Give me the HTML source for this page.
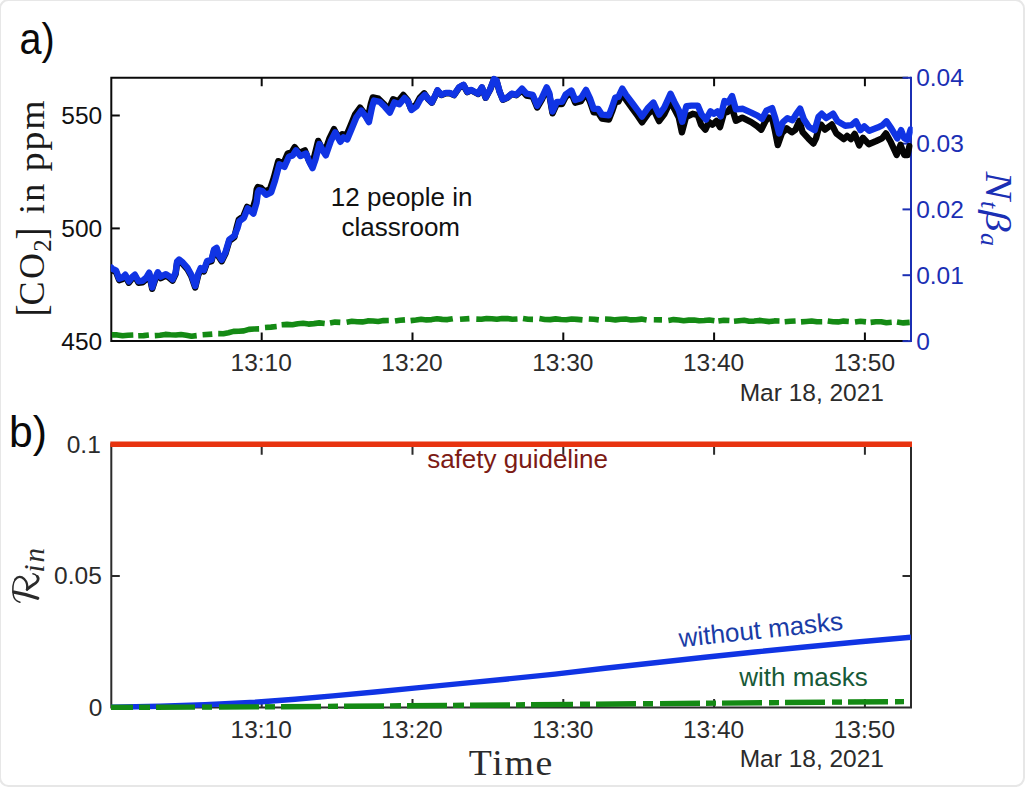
<!DOCTYPE html>
<html><head><meta charset="utf-8"><title>Figure</title>
<style>html,body{margin:0;padding:0;background:#fff;}svg{display:block;}text{font-family:"Liberation Sans",sans-serif;}.s{font-family:"Liberation Serif",serif;}</style></head><body>
<svg width="1025" height="787" viewBox="0 0 1025 787">
<rect x="0" y="0" width="1025" height="787" fill="#ffffff"/>
<rect x="0" y="0" width="1024" height="786" rx="8.5" ry="8.5" fill="none" stroke="#e7e7e7" stroke-width="2"/>
<g fill="none" stroke-width="2" stroke-linecap="square">
<path d="M111.3 77.8 H907.0 M111.3 77.8 V341.1 M111.3 341.1 H907.0" stroke="#0a0a0a"/>
<path d="M911.0 77.8 V341.1" stroke="#1b2fb4"/>
</g>
<g fill="none" stroke-width="2" stroke="#0a0a0a">
<path d="M261.7 77.8 v8.5 M261.7 341.1 v-8.5"/>
<path d="M412.5 77.8 v8.5 M412.5 341.1 v-8.5"/>
<path d="M563.3 77.8 v8.5 M563.3 341.1 v-8.5"/>
<path d="M714.1 77.8 v8.5 M714.1 341.1 v-8.5"/>
<path d="M864.9 77.8 v8.5 M864.9 341.1 v-8.5"/>
<path d="M111.3 115.5 h8.5"/>
<path d="M111.3 228.4 h8.5"/>
</g>
<g fill="none" stroke-width="2" stroke="#1b2fb4">
<path d="M911.0 77.8 h-8.5"/>
<path d="M911.0 143.6 h-8.5"/>
<path d="M911.0 209.4 h-8.5"/>
<path d="M911.0 275.2 h-8.5"/>
<path d="M911.0 341.1 h-8.5"/>
</g>
<clipPath id="ct"><rect x="110.8" y="74.8" width="801.9" height="268.3"/></clipPath>
<g clip-path="url(#ct)" fill="none" stroke-linejoin="round" stroke-linecap="round">
<polyline points="111.3,269.0 112.1,270.0 116.1,272.1 119.2,280.2 122.2,279.2 125.3,276.1 128.8,282.7 132.4,278.1 134.9,276.1 138.5,282.7 142.6,282.2 146.1,279.2 149.2,274.1 152.2,288.8 155.3,279.2 157.8,273.6 160.8,278.1 165.9,275.6 169.0,277.6 172.5,280.7 175.6,274.1 177.1,262.9 179.1,260.9 182.2,263.4 187.3,269.0 191.3,276.1 195.2,287.4 198.2,275.2 200.7,269.5 203.9,271.4 207.1,262.5 211.5,261.2 214.0,251.1 216.6,249.2 218.5,256.2 221.7,261.2 225.5,253.6 229.3,240.9 234.4,237.1 236.9,226.6 238.8,219.6 243.3,216.4 247.1,206.9 252.2,210.4 255.4,199.6 256.7,189.4 257.8,187.1 261.1,187.9 264.9,191.7 270.0,189.2 273.8,177.7 278.2,161.2 283.3,163.7 287.7,153.6 291.6,152.3 294.7,147.2 299.2,152.9 304.9,150.4 308.1,158.7 311.3,165.0 314.4,156.1 318.2,140.9 321.4,147.2 324.6,152.3 329.6,138.1 334.0,129.2 339.1,138.7 342.3,134.2 346.1,136.2 350.6,125.4 355.0,114.6 360.1,107.6 363.9,112.6 367.7,119.0 370.9,103.7 372.8,97.4 378.5,98.7 383.6,103.7 388.7,109.5 393.1,99.3 398.2,101.2 403.3,94.9 407.7,100.3 410.9,108.5 416.0,104.7 419.8,97.7 424.2,93.3 428.0,98.9 431.8,102.7 435.0,96.3 437.5,90.6 441.4,95.1 445.8,93.2 449.6,93.2 454.0,95.2 459.1,87.6 463.5,85.1 467.3,92.1 471.1,90.2 478.1,94.0 481.9,87.6 485.7,97.8 490.2,89.5 494.0,79.4 496.5,80.6 499.7,92.1 502.9,99.7 507.3,97.8 511.8,94.0 516.2,95.2 522.0,90.4 526.4,95.5 532.8,96.7 537.2,107.5 541.7,99.9 546.7,89.1 549.3,94.8 552.5,113.3 556.9,103.7 562.0,104.0 565.8,96.6 571.4,93.0 575.2,102.7 581.0,101.1 586.0,93.1 589.9,101.5 593.7,112.4 598.1,112.6 601.9,118.5 608.9,119.5 612.1,111.4 615.3,102.0 618.4,101.5 622.3,93.5 626.1,99.9 632.4,108.5 638.1,116.4 642.0,122.3 647.7,114.3 653.4,108.9 656.6,116.0 659.1,121.1 664.2,114.4 668.0,106.4 670.5,100.8 674.4,109.1 678.8,117.6 681.9,132.3 686.0,117.0 692.7,113.8 697.8,115.0 701.0,124.6 705.4,129.7 709.0,122.0 712.4,124.6 716.5,121.0 720.0,127.2 724.0,113.0 727.6,111.9 731.5,106.5 735.9,120.8 742.3,117.6 751.2,122.1 757.0,126.0 761.3,129.7 765.5,121.0 768.9,117.6 772.5,119.5 775.0,131.0 777.8,145.0 782.0,133.0 786.7,128.4 791.8,132.3 795.6,129.6 799.4,120.7 802.6,132.1 808.3,138.4 813.4,143.5 816.0,138.4 818.5,129.0 821.0,124.5 824.9,129.6 831.8,124.5 836.3,133.4 843.9,139.1 847.1,135.9 850.9,139.1 854.7,134.0 859.2,145.4 863.0,137.8 868.7,144.2 876.3,141.0 882.0,138.4 885.9,133.4 890.9,142.3 896.7,155.0 900.5,144.8 904.3,155.0 907.5,155.0 909.4,146.1" stroke="#050505" stroke-width="6.4"/>
<polyline points="111.3,267.6 112.1,268.6 116.1,270.7 119.2,278.8 122.2,277.8 125.3,274.7 128.8,281.3 132.4,276.7 134.9,274.7 138.5,281.3 142.6,280.8 146.1,277.8 149.2,272.7 152.2,287.4 155.3,277.8 157.8,272.2 160.8,276.7 165.9,274.2 169.0,276.2 172.5,279.3 175.6,272.7 177.1,261.5 179.1,259.5 182.2,262.0 187.3,267.6 191.3,274.7 195.2,286.0 198.2,273.8 200.7,268.1 203.9,270.0 207.1,261.1 211.5,259.8 214.0,249.7 216.6,247.8 218.5,254.8 221.7,259.8 225.5,252.2 229.3,239.5 234.4,235.7 237.5,228.1 239.4,221.1 243.9,217.9 247.7,208.4 253.4,213.5 256.6,202.7 257.9,192.5 259.0,190.2 262.3,191.0 266.1,194.8 271.2,192.3 275.0,180.8 279.4,164.3 284.5,166.8 288.9,156.7 292.8,155.4 295.9,150.3 300.4,156.0 306.1,153.5 309.3,161.8 312.5,168.1 315.6,159.2 319.4,144.0 322.6,150.3 325.8,155.4 330.8,141.2 335.2,132.3 340.3,141.8 343.5,137.3 347.3,139.3 351.8,128.5 356.2,117.7 361.3,110.7 365.1,115.7 368.9,122.1 372.1,106.8 374.0,100.5 379.7,101.8 384.8,106.8 389.9,112.6 394.3,102.4 399.4,104.3 404.5,98.0 408.3,101.8 411.5,110.0 416.6,106.2 420.4,99.2 424.8,94.8 428.0,98.6 431.8,102.4 435.0,96.0 437.5,90.3 441.4,94.8 445.8,92.9 449.6,92.9 454.0,94.9 459.1,87.3 463.5,84.8 467.3,91.8 471.1,89.9 478.1,93.7 481.9,87.3 485.7,97.5 490.2,89.2 494.0,79.1 496.5,80.3 499.7,91.8 502.9,99.4 507.3,97.5 511.8,93.7 516.2,94.9 522.0,88.6 526.4,93.7 532.8,94.9 537.2,105.7 541.7,98.1 546.7,87.3 549.3,93.0 552.5,111.5 556.9,101.9 562.0,101.9 565.8,94.3 571.4,90.5 575.2,100.0 581.0,98.1 586.0,89.9 589.9,98.1 593.7,108.9 598.1,108.9 601.9,114.6 608.9,115.3 612.1,107.0 615.3,97.5 618.4,96.8 622.3,88.6 626.1,94.9 632.4,103.2 638.1,110.8 642.0,116.5 647.7,108.3 653.4,102.6 656.6,109.6 659.1,114.6 664.2,107.6 668.0,99.4 670.5,93.7 674.4,101.9 678.8,110.2 682.2,121.8 686.4,106.2 691.4,105.6 697.8,105.6 701.6,114.5 706.0,119.6 710.5,111.3 713.7,113.8 717.5,111.3 720.7,116.4 724.5,101.1 728.3,102.4 732.1,96.0 735.9,109.4 742.9,108.8 751.2,112.6 757.5,115.7 762.0,118.9 766.4,110.7 772.1,108.1 775.3,118.3 779.1,133.5 782.9,122.1 787.4,118.3 792.5,120.2 796.3,113.8 800.1,108.6 803.9,119.4 809.0,127.0 814.7,130.2 818.5,116.8 821.7,113.7 826.1,118.1 833.1,113.7 837.6,121.3 845.2,125.7 851.5,125.1 856.0,121.3 860.4,130.2 864.3,126.4 869.3,130.8 877.6,127.6 882.7,125.1 886.5,121.3 891.6,128.9 897.3,138.4 901.1,130.2 904.3,138.4 907.5,139.7 910.6,129.6" stroke="#1034e4" stroke-width="6.4"/>
</g>
<g fill="none" stroke="#148a14" stroke-width="5.6" stroke-linecap="butt" stroke-linejoin="round">
<polyline points="111.8,334.9 117.2,334.9 122.6,335.8 127.9,335.2 133.3,335.0"/>
<polyline points="138.2,335.8 143.6,335.6 148.9,335.0"/>
<polyline points="154.8,335.6 160.0,335.3 165.3,334.4 170.5,334.8 175.8,335.0 181.0,334.5 186.2,335.2 191.5,336.2 196.7,335.6"/>
<polyline points="202.6,334.8 212.3,334.1"/>
<polyline points="218.2,333.6 223.3,333.7 228.4,332.7 233.5,331.4 238.7,331.3 243.8,330.9 248.9,329.4 254.0,329.0 259.1,328.9"/>
<polyline points="265.0,327.5 270.9,327.1 276.7,326.5"/>
<polyline points="281.6,324.8 287.0,324.4 292.4,324.8 297.8,323.8 303.1,323.3 308.5,324.1 313.9,323.6 319.3,322.9 324.7,323.5"/>
<polyline points="330.0,323.1 335.1,322.1 340.3,322.4"/>
<polyline points="346.6,322.2 351.9,321.3 357.2,321.7 362.4,321.9 367.7,320.9 373.0,321.0 378.2,321.5 383.5,320.6 388.8,320.5"/>
<polyline points="395.0,321.1 400.0,320.3 405.0,319.9"/>
<polyline points="410.6,320.6 415.9,320.0 421.2,319.2 426.4,319.9 431.7,319.6 437.0,318.8 442.2,319.4 447.5,319.6 452.8,318.7"/>
<polyline points="460.0,319.3 469.4,318.6"/>
<polyline points="476.3,319.1 481.4,319.3 486.6,318.5 491.8,318.7 496.9,319.3 502.1,318.6 507.2,318.5 512.4,319.3 517.5,319.0"/>
<polyline points="523.0,318.5 528.0,319.3 533.0,319.4"/>
<polyline points="539.4,318.6 544.8,319.5 550.2,319.6 555.6,318.9 561.0,319.5 566.3,319.8 571.7,319.0 577.1,319.4 582.5,319.9"/>
<polyline points="588.8,319.0 593.8,319.3 598.8,319.9"/>
<polyline points="605.0,319.0 610.2,319.2 615.4,319.9 620.6,319.3 625.8,319.0 631.0,319.9 636.2,319.7 641.4,319.1 646.6,319.9"/>
<polyline points="653.8,319.8 662.0,319.9"/>
<polyline points="668.4,320.4 673.5,319.6 678.6,320.0 683.7,320.7 688.8,320.1 694.0,320.0 699.1,320.8 704.2,320.5 709.3,320.0 714.4,320.7"/>
<polyline points="718.4,321.0 723.9,320.2 729.4,320.5"/>
<polyline points="734.0,321.2 739.1,320.7 744.1,320.3 749.2,321.2 754.2,321.1 759.3,320.4 764.3,321.0 769.4,321.6 774.4,320.9 779.5,321.0"/>
<polyline points="784.7,321.8 790.2,321.3 795.6,321.0"/>
<polyline points="801.0,321.9 806.3,321.5 811.6,321.0 816.9,321.8 822.2,321.8"/>
<polyline points="827.7,321.0 833.0,321.7 838.2,321.9 843.5,321.1 848.8,321.5"/>
<polyline points="855.0,322.1 860.5,321.3 866.0,321.9"/>
<polyline points="870.6,322.4 875.9,321.8 881.2,321.8 886.4,322.7 891.7,322.3"/>
<polyline points="897.0,321.9 903.4,322.9 909.7,322.4"/>
</g>
<g font-size="24.5" fill="#111">
<text x="102.2" y="124.2" text-anchor="end">550</text>
<text x="102.2" y="237.0" text-anchor="end">500</text>
<text x="102.2" y="349.8" text-anchor="end">450</text>
</g>
<g font-size="24.5" fill="#2b2b2b" text-anchor="middle">
<text x="261.2" y="371.2">13:10</text>
<text x="412.0" y="371.2">13:20</text>
<text x="562.8" y="371.2">13:30</text>
<text x="713.6" y="371.2">13:40</text>
<text x="864.4" y="371.2">13:50</text>
</g>
<text x="884" y="400.8" font-size="24.5" fill="#2b2b2b" text-anchor="end">Mar 18, 2021</text>
<g font-size="24.5" fill="#1b2fb4">
<text x="916.2" y="86.3">0.04</text>
<text x="916.2" y="152.1">0.03</text>
<text x="916.2" y="217.9">0.02</text>
<text x="916.2" y="283.7">0.01</text>
<text x="916.2" y="349.6">0</text>
</g>
<g font-size="26" fill="#111" text-anchor="middle">
<text x="401.7" y="205.6">12 people in</text>
<text x="400.8" y="235.8">classroom</text>
</g>
<text transform="translate(19.5,54) scale(0.9,1)" font-size="44" fill="#0a0a0a">a)</text>
<text transform="translate(9.0,447) scale(0.97,1)" font-size="44" fill="#0a0a0a">b)</text>
<g class="s" font-size="36" fill="#1a1a1a" transform="translate(43.7,0) rotate(-90)">
<text class="s" transform="translate(-316.5,1.5) scale(1,1.18)">[</text>
<text class="s" x="-305.5" y="0">C</text>
<text class="s" x="-279" y="0">O</text>
<text class="s" x="-251.8" y="7.5" font-size="25">2</text>
<text class="s" transform="translate(-239.5,1.5) scale(1,1.18)">]</text>
<text class="s" x="-214" y="0" letter-spacing="2.2">in</text>
<text class="s" transform="translate(-171.3,0) scale(1.05,1)" letter-spacing="1.8">ppm</text>
</g>
<g class="s" fill="#1b2fb4" transform="translate(986.3,0) rotate(90)" font-style="italic">
<text class="s" transform="translate(171.5,0) scale(1.13,1)" font-size="38">N</text>
<text class="s" transform="translate(201,5.6)" font-size="26">t</text>
<text class="s" transform="translate(210,0) scale(1.2,1)" font-size="36">β</text>
<text class="s" transform="translate(233,5.8)" font-size="26">a</text>
</g>
<g fill="none" stroke-width="2" stroke="#2b2b2b" stroke-linecap="square">
<path d="M111.3 444.3 V707.5 H911.0 V444.3"/>
<path d="M261.7 444.3 v10.5 M261.7 707.5 v-8.5" stroke-linecap="butt"/>
<path d="M412.5 444.3 v10.5 M412.5 707.5 v-8.5" stroke-linecap="butt"/>
<path d="M563.3 444.3 v10.5 M563.3 707.5 v-8.5" stroke-linecap="butt"/>
<path d="M714.1 444.3 v10.5 M714.1 707.5 v-8.5" stroke-linecap="butt"/>
<path d="M864.9 444.3 v10.5 M864.9 707.5 v-8.5" stroke-linecap="butt"/>
<path d="M111.3 575.9 h8.5 M911.0 575.9 h-8.5" stroke-linecap="butt"/>
</g>
<g fill="none" stroke-linejoin="round">
<polyline points="111.3,707.3 160.0,706.3 205.0,704.8 255.0,702.2 295.0,699.2 333.0,695.9 375.0,692.0 414.0,688.1 460.0,683.6 505.0,679.2 555.0,674.1 605.0,668.3 655.0,662.8 705.0,657.3 755.0,652.0 805.0,647.0 860.0,641.8 911.0,637.2" stroke="#1034e4" stroke-width="5.4"/>
</g>
<g fill="none" stroke="#148a14" stroke-width="5.4" stroke-linecap="butt">
<path d="M111.0 707.3 L133.0 707.3"/>
<path d="M139.0 707.3 L150.0 707.2"/>
<path d="M156.0 707.2 L195.0 707.1"/>
<path d="M202.0 707.1 L212.0 707.1"/>
<path d="M219.0 707.0 L259.0 706.9"/>
<path d="M265.0 706.8 L275.0 706.8"/>
<path d="M281.0 706.7 L321.0 706.5"/>
<path d="M328.0 706.4 L338.0 706.3"/>
<path d="M344.0 706.3 L384.0 706.0"/>
<path d="M390.0 705.9 L401.0 705.8"/>
<path d="M407.0 705.8 L447.0 705.5"/>
<path d="M453.0 705.4 L464.0 705.3"/>
<path d="M470.0 705.3 L510.0 705.0"/>
<path d="M516.0 704.9 L525.0 704.8"/>
<path d="M531.0 704.8 L573.0 704.4"/>
<path d="M580.0 704.3 L590.0 704.2"/>
<path d="M596.0 704.2 L636.0 703.8"/>
<path d="M643.0 703.8 L653.0 703.7"/>
<path d="M660.0 703.6 L700.0 703.2"/>
<path d="M706.0 703.2 L716.0 703.1"/>
<path d="M722.0 703.1 L762.0 702.7"/>
<path d="M769.0 702.7 L779.0 702.6"/>
<path d="M785.0 702.5 L825.0 702.2"/>
<path d="M832.0 702.1 L842.0 702.1"/>
<path d="M848.0 702.0 L888.0 701.7"/>
<path d="M895.0 701.7 L904.0 701.6"/>
</g>
<path d="M110.3 444.3 H912.0" stroke="#e8330f" stroke-width="5.6" fill="none"/>
<g font-size="24.5" fill="#2b2b2b" text-anchor="end">
<text x="100.8" y="452.8">0.1</text>
<text x="101.8" y="584.4">0.05</text>
<text x="102.3" y="716.0">0</text>
</g>
<g font-size="24.5" fill="#2b2b2b" text-anchor="middle">
<text x="261.2" y="737.6">13:10</text>
<text x="412.0" y="737.6">13:20</text>
<text x="562.8" y="737.6">13:30</text>
<text x="713.6" y="737.6">13:40</text>
<text x="864.4" y="737.6">13:50</text>
</g>
<text x="884" y="767.2" font-size="24.5" fill="#2b2b2b" text-anchor="end">Mar 18, 2021</text>
<text x="517.5" y="467.6" font-size="26" fill="#7c1a14" text-anchor="middle">safety guideline</text>
<text x="803.5" y="686.2" font-size="26" fill="#185a38" text-anchor="middle">with masks</text>
<text transform="translate(679.8,647.2) rotate(-6.1)" x="0" y="0" font-size="26" fill="#1a3ca6">without masks</text>
<text class="s" transform="translate(468.8,774.5) scale(1.05,1)" font-size="36" fill="#2b2b2b" letter-spacing="1.6">Time</text>
<g transform="translate(38.5,603) rotate(-90)" fill="none" stroke="#2b2b2b" stroke-linecap="round" stroke-linejoin="round">
<path d="M0.8,-18.6 C1.8,-22 4,-24.6 8,-25.2 C14,-26.1 20,-25.6 23.6,-23.2" stroke-width="1.5"/>
<path d="M23.6,-23.2 C27,-20.6 26.6,-17 24.2,-14.5 C21.6,-12 18,-10.6 13.6,-11.4" stroke-width="2.3"/>
<path d="M10.9,-24.6 C9.5,-16 7,-7 4.8,-0.8" stroke-width="3.3"/>
<path d="M13.6,-11.4 C16.2,-9 18.2,-5.4 20.2,-2.6 C21.8,-0.4 24.6,0.4 26.6,-1.2" stroke-width="2.8"/>
<path d="M26.6,-1.2 C28.2,-2.6 28.9,-4.2 29.2,-5.6" stroke-width="1.5"/>
<text class="s" x="30.6" y="5.4" font-size="29" font-style="italic" fill="#2b2b2b" stroke="none" letter-spacing="1.8">in</text>
</g>
</svg></body></html>
